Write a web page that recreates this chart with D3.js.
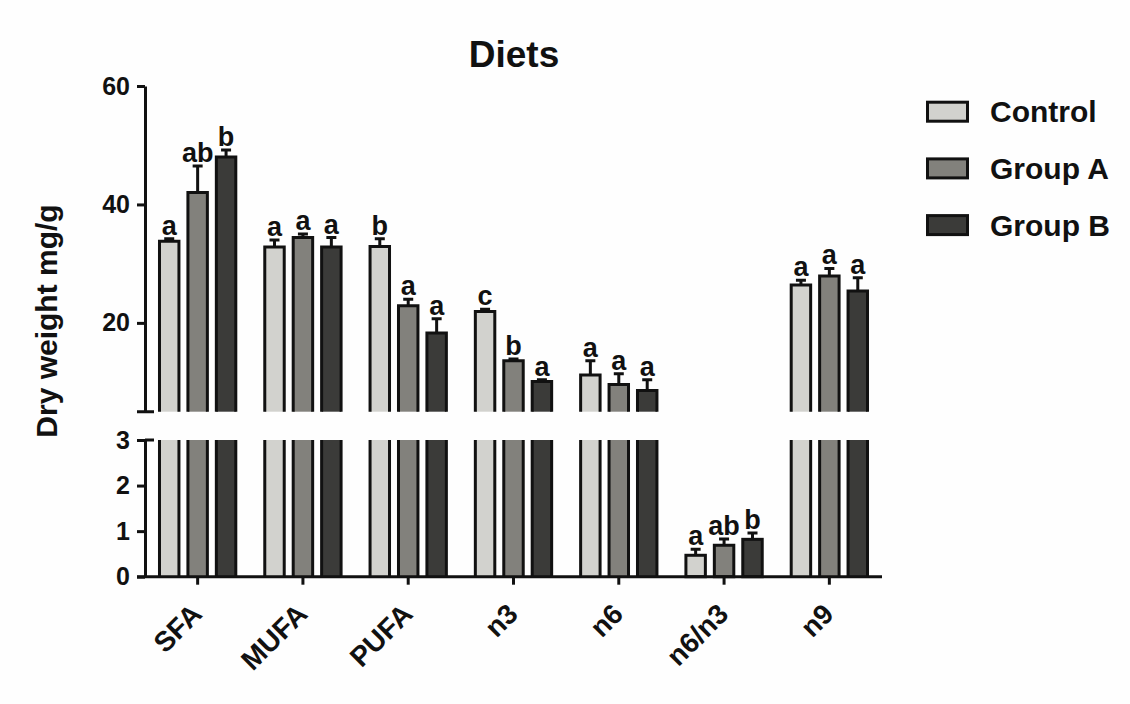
<!DOCTYPE html>
<html>
<head>
<meta charset="utf-8">
<script src="https://cdn.jsdelivr.net/npm/d3@7"></script>
<style>
  body { margin: 0; background: #fefefe; }
  svg { display: block; }
  text { font-family: "Liberation Sans", Arial, sans-serif; font-weight: bold; fill: #111; }
</style>
</head>
<body>
<svg id="chart" width="1130" height="704"></svg>
<script>
// ---- data ----
const categories = ["SFA", "MUFA", "PUFA", "n3", "n6", "n6/n3", "n9"];
const seriesNames = ["Control", "Group A", "Group B"];
const controlValues = [33.8, 32.8, 32.9, 21.9, 11.2, 0.47, 26.4];
const groupAValues  = [42.0, 34.4, 22.9, 13.6, 9.6, 0.69, 27.9];
const groupBValues  = [48.0, 32.8, 18.3, 10.1, 8.6, 0.82, 25.4];
const controlErr = [0.4, 1.2, 1.3, 0.4, 2.4, 0.13, 0.8];
const groupAErr  = [4.5, 0.6, 1.1, 0.3, 1.8, 0.14, 1.3];
const groupBErr  = [1.2, 1.6, 2.4, 0.3, 1.8, 0.14, 2.2];
const controlLetters = ["a", "a", "b", "c", "a", "a", "a"];
const groupALetters  = ["ab", "a", "a", "b", "a", "ab", "a"];
const groupBLetters  = ["b", "a", "a", "a", "a", "b", "a"];
const upperTicks = [20, 40, 60];
const lowerTicks = [0, 1, 2, 3];
const fills = ["#d2d2ce", "#82817c", "#3b3b39"];

const values = [controlValues, groupAValues, groupBValues];
const errs = [controlErr, groupAErr, groupBErr];
const letters = [controlLetters, groupALetters, groupBLetters];

const svg = d3.select("#chart");
const ink = "#111";
const sw = 3;

// ---- scales ----
const axisX = 145;
const x = d3.scaleBand().domain(categories).range([145, 882]).padding(0);
const xi = d3.scaleBand().domain(seriesNames)
  .range([-x.bandwidth() * 0.405, x.bandwidth() * 0.405])
  .paddingInner(0.21).paddingOuter(0.105);
const yUp = d3.scaleLinear().domain([5, 60]).range([411.7, 86]);
const yLo = d3.scaleLinear().domain([0, 3]).range([576.7, 440]);
const breakVal = 3;

function yOf(v) { return v <= breakVal ? yLo(v) : yUp(v); }

// ---- bars ----
const g = svg.append("g");
categories.forEach((cat, ci) => {
  seriesNames.forEach((s, si) => {
    const v = values[si][ci];
    const e = errs[si][ci];
    const cx = x(cat) + x.bandwidth() / 2;
    const x0 = cx + xi(s) + sw / 2;
    const w = xi.bandwidth() - sw;
    const fill = fills[si];
    if (v <= breakVal) {
      g.append("rect").attr("x", x0).attr("y", yLo(v)).attr("width", w)
        .attr("height", yLo(0) - yLo(v)).attr("fill", fill)
        .attr("stroke", ink).attr("stroke-width", sw);
    } else {
      g.append("rect").attr("x", x0).attr("y", yLo(3)).attr("width", w)
        .attr("height", yLo(0) - yLo(3)).attr("fill", fill);
      g.append("path").attr("d", `M${x0},${yLo(3)}V${yLo(0)}M${x0 + w},${yLo(3)}V${yLo(0)}`)
        .attr("stroke", ink).attr("stroke-width", sw).attr("fill", "none");
      g.append("rect").attr("x", x0).attr("y", yUp(v)).attr("width", w)
        .attr("height", yUp(5) - yUp(v)).attr("fill", fill);
      g.append("path").attr("d", `M${x0},${yUp(5)}V${yUp(v)}H${x0 + w}V${yUp(5)}`)
        .attr("stroke", ink).attr("stroke-width", sw).attr("fill", "none");
    }
    const bx = x0 + w / 2;
    const yTop = yOf(v + e);
    g.append("path").attr("d", `M${bx},${yOf(v)}V${yTop}M${bx - 5},${yTop}H${bx + 5}`)
      .attr("stroke", ink).attr("stroke-width", sw).attr("fill", "none");
    g.append("text").attr("x", bx).attr("y", yTop - 4).attr("text-anchor", "middle")
      .attr("font-size", 27).text(letters[si][ci]);
  });
});

// ---- y axes ----
const axUp = svg.append("g").attr("transform", `translate(${axisX},0)`)
  .call(d3.axisLeft(yUp).tickValues(upperTicks).tickFormat(d3.format("d"))
    .tickSize(8).tickPadding(7).tickSizeOuter(0));
const axLo = svg.append("g").attr("transform", `translate(${axisX},0)`)
  .call(d3.axisLeft(yLo).tickValues(lowerTicks).tickFormat(d3.format("d"))
    .tickSize(8).tickPadding(7).tickSizeOuter(0));
[axUp, axLo].forEach(a => {
  a.attr("font-size", 25).attr("font-family", "Liberation Sans, Arial, sans-serif");
  a.select(".domain").attr("stroke", ink).attr("stroke-width", sw);
  a.selectAll(".tick line").attr("stroke", ink).attr("stroke-width", sw);
  a.selectAll(".tick text").attr("font-size", 25).attr("fill", ink).attr("font-weight", "bold");
});
svg.append("path").attr("d", `M${axisX - 8},${yUp(5)}H${axisX + 9}M${axisX},${yLo(3)}H${axisX + 9}`)
  .attr("stroke", ink).attr("stroke-width", sw);

// ---- x axis ----
const axX = svg.append("g").attr("transform", `translate(0,${yLo(0)})`)
  .call(d3.axisBottom(x).tickSize(8).tickSizeOuter(0).tickFormat(""));
axX.select(".domain").attr("stroke", ink).attr("stroke-width", sw)
  .attr("d", `M${axisX - 8},0H${x.range()[1]}`);
axX.selectAll(".tick line").attr("stroke", ink).attr("stroke-width", sw);
categories.forEach(cat => {
  const cx = x(cat) + x.bandwidth() / 2;
  svg.append("text")
    .attr("transform", `translate(${cx + 6},${yLo(0) + 39}) rotate(-45)`)
    .attr("text-anchor", "end")
    .attr("font-size", 28).text(cat);
});

// ---- title & y label ----
svg.append("text").attr("x", 514).attr("y", 67).attr("text-anchor", "middle")
  .attr("font-size", 37).text("Diets");
svg.append("text").attr("transform", "translate(57,321) rotate(-90)")
  .attr("text-anchor", "middle").attr("font-size", 30).text("Dry weight mg/g");

// ---- legend ----
const legend = svg.append("g");
seriesNames.forEach((s, i) => {
  const cy = 111.7 + i * 56.7;
  legend.append("rect").attr("x", 927.5).attr("y", cy - 9.5).attr("width", 40).attr("height", 19)
    .attr("fill", fills[i]).attr("stroke", ink).attr("stroke-width", sw);
  legend.append("text").attr("x", 990).attr("y", cy + 10.5).attr("font-size", 30).text(s);
});
</script>
</body>
</html>
